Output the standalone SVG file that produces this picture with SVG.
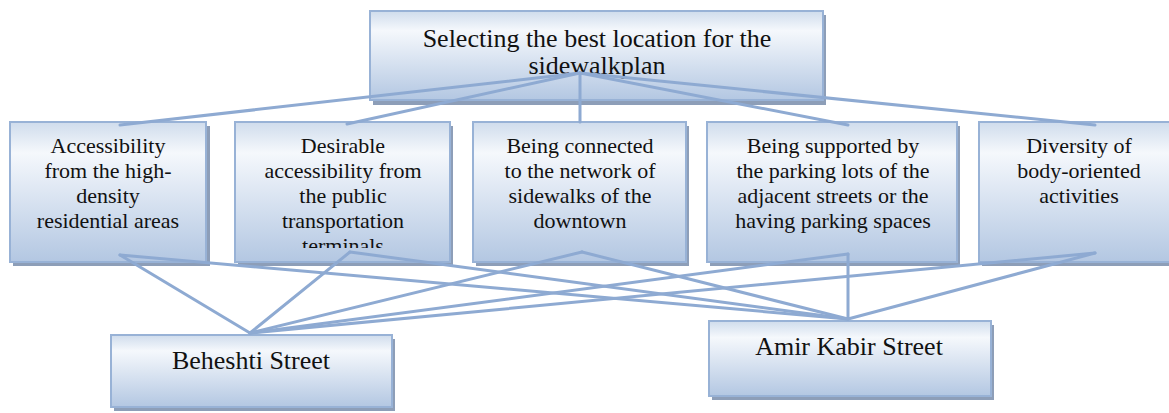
<svg xmlns="http://www.w3.org/2000/svg" width="1169" height="413" viewBox="0 0 1169 413">
  <defs>
    <linearGradient id="boxFill" x1="0" y1="0" x2="0" y2="1">
      <stop offset="0" stop-color="#cfdcec"/>
      <stop offset="0.22" stop-color="#f5f8fc"/>
      <stop offset="1" stop-color="#b3c7e2"/>
    </linearGradient>
    <clipPath id="clipTerminals">
      <rect x="235" y="122" width="215" height="126"/>
    </clipPath>
  </defs>
  <style>
    .shadow { fill: #8d9eb8; }
    .box { fill: url(#boxFill); stroke: #98b2d6; stroke-width: 2; }
    .link { stroke: #8eaad2; stroke-width: 3; fill: none; stroke-linecap: round; }
  </style>

  <!-- goal -->
  <g id="goal">
    <rect class="shadow" x="373" y="15" width="453" height="90"/>
    <rect class="box" x="370" y="11" width="453" height="89"/>
    <g font-family="Liberation Serif" font-size="26" fill="#111" text-anchor="middle">
      <text x="597" y="47">Selecting the best location for the</text>
      <text x="597" y="74">sidewalkplan</text>
    </g>
  </g>

  <!-- criteria -->
  <g id="c1">
    <rect class="shadow" x="13" y="126" width="197" height="140"/>
    <rect class="box" x="10" y="122" width="196" height="140"/>
    <g font-family="Liberation Serif" font-size="22" fill="#111" text-anchor="middle">
      <text x="108" y="153">Accessibility</text>
      <text x="108" y="178">from the high-</text>
      <text x="108" y="203">density</text>
      <text x="108" y="228">residential areas</text>
    </g>
  </g>
  <g id="c2">
    <rect class="shadow" x="238" y="126" width="215" height="140"/>
    <rect class="box" x="235" y="122" width="215" height="140"/>
    <g clip-path="url(#clipTerminals)" font-family="Liberation Serif" font-size="22" fill="#111" text-anchor="middle">
      <text x="343" y="153">Desirable</text>
      <text x="343" y="178">accessibility from</text>
      <text x="343" y="203">the public</text>
      <text x="343" y="228">transportation</text>
      <text x="343" y="253">terminals</text>
    </g>
  </g>
  <g id="c3">
    <rect class="shadow" x="476" y="126" width="213" height="140"/>
    <rect class="box" x="473" y="122" width="213" height="140"/>
    <g font-family="Liberation Serif" font-size="22" fill="#111" text-anchor="middle">
      <text x="580" y="153">Being connected</text>
      <text x="580" y="178">to the network of</text>
      <text x="580" y="203">sidewalks of the</text>
      <text x="580" y="228">downtown</text>
    </g>
  </g>
  <g id="c4">
    <rect class="shadow" x="710" y="126" width="250" height="140"/>
    <rect class="box" x="707" y="122" width="250" height="140"/>
    <g font-family="Liberation Serif" font-size="22" fill="#111" text-anchor="middle">
      <text x="833" y="153">Being supported by</text>
      <text x="833" y="178">the parking lots of the</text>
      <text x="833" y="203">adjacent streets or the</text>
      <text x="833" y="228">having parking spaces</text>
    </g>
  </g>
  <g id="c5">
    <rect class="shadow" x="982" y="126" width="200" height="140"/>
    <rect class="box" x="979" y="122" width="200" height="140"/>
    <g font-family="Liberation Serif" font-size="22" fill="#111" text-anchor="middle">
      <text x="1079" y="153">Diversity of</text>
      <text x="1079" y="178">body-oriented</text>
      <text x="1079" y="203">activities</text>
    </g>
  </g>

  <!-- alternatives -->
  <g id="beheshti">
    <rect class="shadow" x="114" y="339" width="281" height="72"/>
    <rect class="box" x="111" y="335" width="281" height="72"/>
    <text x="251" y="369" font-family="Liberation Serif" font-size="26" fill="#111" text-anchor="middle">Beheshti Street</text>
  </g>
  <g id="amirkabir">
    <rect class="shadow" x="712" y="325" width="282" height="75"/>
    <rect class="box" x="709" y="321" width="282" height="75"/>
    <text x="849" y="355" font-family="Liberation Serif" font-size="26" fill="#111" text-anchor="middle">Amir Kabir Street</text>
  </g>

  <!-- connectors -->
  <g id="connectors">
    <path class="link" d="M580 73 L120 125"/>
    <path class="link" d="M580 73 L347 124"/>
    <path class="link" d="M580 73 L580 122"/>
    <path class="link" d="M580 73 L848 125"/>
    <path class="link" d="M580 73 L1095 125"/>

    <path class="link" d="M120 255 L250 333"/>
    <path class="link" d="M350 252 L250 333"/>
    <path class="link" d="M582 252 L250 333"/>
    <path class="link" d="M848 254 L250 333"/>
    <path class="link" d="M1095 253 L250 333"/>

    <path class="link" d="M120 255 L848 319"/>
    <path class="link" d="M350 252 L848 319"/>
    <path class="link" d="M582 252 L848 319"/>
    <path class="link" d="M848 254 L848 319"/>
    <path class="link" d="M1095 253 L848 319"/>
  </g>
</svg>
